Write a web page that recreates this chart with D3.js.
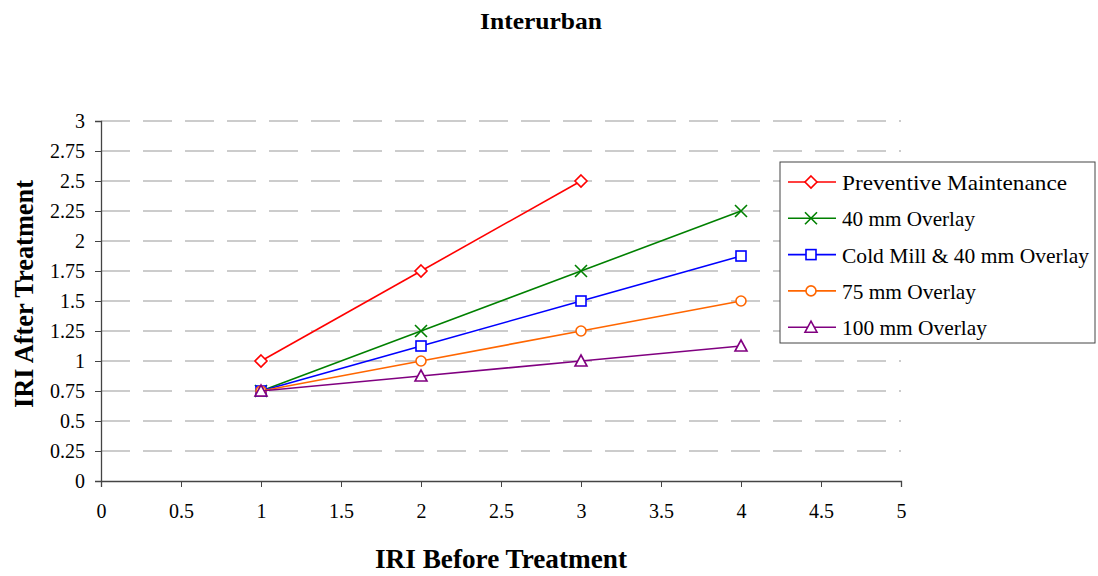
<!DOCTYPE html>
<html>
<head>
<meta charset="utf-8">
<script src="https://cdn.jsdelivr.net/npm/d3@7"></script>
<style>
  body { margin: 0; background: #fff; }
  text { font-family: "Liberation Serif", "Times New Roman", serif; }
</style>
</head>
<body>
<div id="chart"></div>
<script>
// data
var xTicks = [0, 0.5, 1, 1.5, 2, 2.5, 3, 3.5, 4, 4.5, 5];
var yTicks = [0, 0.25, 0.5, 0.75, 1, 1.25, 1.5, 1.75, 2, 2.25, 2.5, 2.75, 3];
var seriesNames = ["Preventive Maintenance", "40 mm Overlay", "Cold Mill & 40 mm Overlay", "75 mm Overlay", "100 mm Overlay"];
var pmValues = [[1, 1], [2, 1.75], [3, 2.5]];
var ov40Values = [[1, 0.75], [2, 1.25], [3, 1.75], [4, 2.25]];
var coldMillValues = [[1, 0.75], [2, 1.125], [3, 1.5], [4, 1.875]];
var ov75Values = [[1, 0.75], [2, 1], [3, 1.25], [4, 1.5]];
var ov100Values = [[1, 0.75], [2, 0.875], [3, 1], [4, 1.125]];

var colors = ["#ff0000", "#008000", "#0000ff", "#ff6600", "#800080"];
var markers = ["diamond", "cross", "square", "circle", "triangle"];
var allValues = [pmValues, ov40Values, coldMillValues, ov75Values, ov100Values];
// legend text widths as in the reference (its font runs wider)
var legendWidths = [225, 133, 247, 134, 145];

var WIDTH = 1098, HEIGHT = 576;
var svg = d3.select('#chart').append('svg')
  .attr('width', WIDTH).attr('height', HEIGHT);

var x = d3.scaleLinear().domain([0, 5]).range([101, 901]);
var y = d3.scaleLinear().domain([0, 3]).range([481, 121]);

// gridlines
svg.append('g').selectAll('line')
  .data(yTicks.filter(function(d) { return d > 0; }))
  .enter().append('line')
  .attr('x1', x(0)).attr('x2', x(5))
  .attr('y1', function(d) { return y(d); })
  .attr('y2', function(d) { return y(d); })
  .attr('stroke', '#999')
  .attr('stroke-width', 1)
  .attr('stroke-dasharray', '29,13');

// axes
var xAxis = d3.axisBottom(x).tickValues(xTicks).tickSize(6).tickPadding(17)
  .tickFormat(function(d) { return d; });
var yAxis = d3.axisLeft(y).tickValues(yTicks).tickSize(6).tickPadding(10)
  .tickFormat(function(d) { return d; });

var gx = svg.append('g').attr('transform', 'translate(0,' + y(0) + ')').call(xAxis);
var gy = svg.append('g').attr('transform', 'translate(' + x(0) + ',0)').call(yAxis);
[gx, gy].forEach(function(g) {
  g.select('.domain').attr('stroke', '#444').attr('stroke-width', 1.3);
  g.selectAll('.tick line').attr('stroke', '#444');
  g.selectAll('text').attr('font-size', 20)
    .attr('font-family', '"Liberation Serif", serif').attr('fill', '#000');
});

// series lines
var line = d3.line()
  .x(function(d) { return x(d[0]); })
  .y(function(d) { return y(d[1]); });

function drawMarker(g, type, cx, cy, color) {
  var s = 5;
  if (type === 'diamond') {
    g.append('path').attr('d', 'M' + cx + ',' + (cy - s - 1) + 'L' + (cx + s + 1) + ',' + cy +
      'L' + cx + ',' + (cy + s + 1) + 'L' + (cx - s - 1) + ',' + cy + 'Z')
      .attr('fill', '#fff').attr('stroke', color).attr('stroke-width', 1.6);
  } else if (type === 'cross') {
    g.append('path').attr('d', 'M' + (cx - s - 1) + ',' + (cy - s - 1) + 'L' + (cx + s + 1) + ',' + (cy + s + 1) +
      'M' + (cx - s - 1) + ',' + (cy + s + 1) + 'L' + (cx + s + 1) + ',' + (cy - s - 1))
      .attr('fill', 'none').attr('stroke', color).attr('stroke-width', 1.6);
  } else if (type === 'square') {
    g.append('rect').attr('x', cx - s).attr('y', cy - s).attr('width', 2 * s).attr('height', 2 * s)
      .attr('fill', '#fff').attr('stroke', color).attr('stroke-width', 1.6);
  } else if (type === 'circle') {
    g.append('circle').attr('cx', cx).attr('cy', cy).attr('r', s)
      .attr('fill', '#fff').attr('stroke', color).attr('stroke-width', 1.6);
  } else if (type === 'triangle') {
    g.append('path').attr('d', 'M' + cx + ',' + (cy - s - 1) + 'L' + (cx + s + 1) + ',' + (cy + s) +
      'L' + (cx - s - 1) + ',' + (cy + s) + 'Z')
      .attr('fill', '#fff').attr('stroke', color).attr('stroke-width', 1.6);
  }
}

allValues.forEach(function(vals, i) {
  var g = svg.append('g');
  g.append('path').datum(vals).attr('d', line)
    .attr('fill', 'none').attr('stroke', colors[i]).attr('stroke-width', 1.6);
  vals.forEach(function(d) {
    drawMarker(g, markers[i], x(d[0]), y(d[1]), colors[i]);
  });
});

// legend
var lg = svg.append('g');
lg.append('rect').attr('x', 780).attr('y', 162).attr('width', 315).attr('height', 181)
  .attr('fill', '#fff').attr('stroke', '#444').attr('stroke-width', 1);
seriesNames.forEach(function(name, i) {
  var ly = 182 + i * 36.3;
  lg.append('line').attr('x1', 788).attr('x2', 836).attr('y1', ly).attr('y2', ly)
    .attr('stroke', colors[i]).attr('stroke-width', 1.6);
  drawMarker(lg, markers[i], 811, ly, colors[i]);
  lg.append('text').attr('x', 842).attr('y', ly + 8).attr('font-size', 22)
    .attr('textLength', legendWidths[i]).attr('lengthAdjust', 'spacingAndGlyphs')
    .text(name);
});

// titles
svg.append('text').attr('x', 541).attr('y', 29).attr('text-anchor', 'middle')
  .attr('font-size', 23).attr('font-weight', 'bold')
  .attr('textLength', 122).attr('lengthAdjust', 'spacingAndGlyphs').text('Interurban');
svg.append('text').attr('x', 501).attr('y', 568).attr('text-anchor', 'middle')
  .attr('font-size', 28).attr('font-weight', 'bold')
  .attr('textLength', 252).attr('lengthAdjust', 'spacingAndGlyphs').text('IRI Before Treatment');
svg.append('text').attr('transform', 'translate(33,294) rotate(-90)').attr('text-anchor', 'middle')
  .attr('font-size', 28).attr('font-weight', 'bold')
  .attr('textLength', 228).attr('lengthAdjust', 'spacingAndGlyphs').text('IRI After Treatment');
</script>
</body>
</html>
